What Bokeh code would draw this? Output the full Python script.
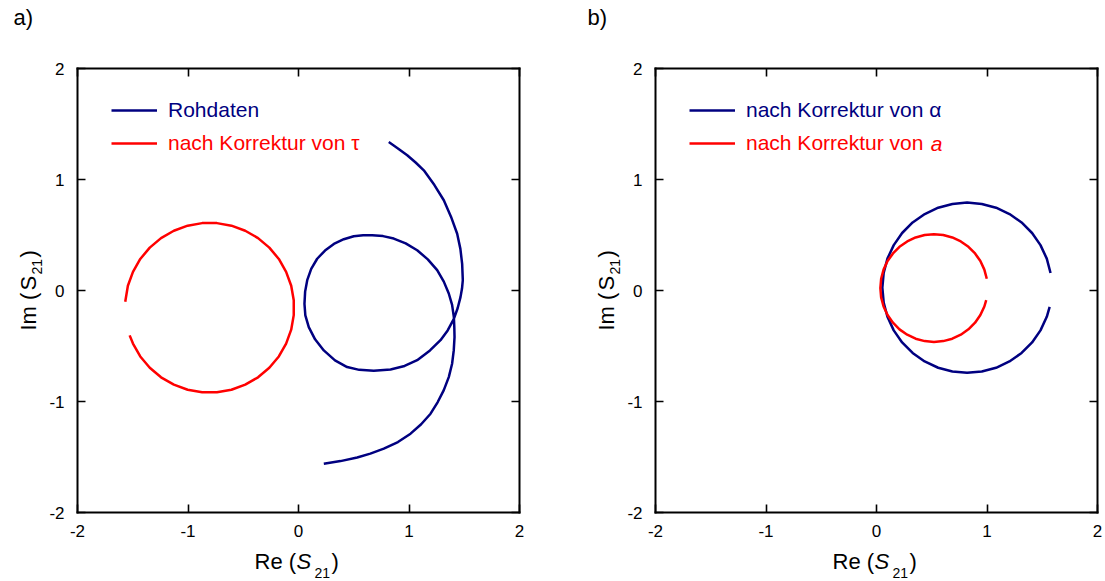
from bokeh.plotting import figure
from bokeh.layouts import row
from bokeh.models import (Range1d, FixedTicker, LinearAxis, Legend, LegendItem,
                          Label, CustomJSTickFormatter)
from bokeh.embed import file_html
from bokeh.resources import INLINE

# ---------------- data ----------------
ticks = [-2, -1, 0, 1, 2]

# panel a) raw data (navy)
raw_re = [0.817, 0.900, 0.984, 1.060, 1.134, 1.230, 1.315, 1.380, 1.436, 1.465,
          1.481, 1.487, 1.480, 1.466, 1.440, 1.406,
          1.350, 1.285, 1.190, 1.074, 0.960, 0.833, 0.681, 0.550, 0.440, 0.330,
          0.229, 0.150, 0.093, 0.062, 0.054, 0.060, 0.079, 0.115, 0.169, 0.240,
          0.320, 0.410, 0.500, 0.585, 0.667, 0.765, 0.862, 0.970, 1.074, 1.170,
          1.255, 1.315, 1.360, 1.390, 1.406,
          1.410, 1.412, 1.405, 1.390, 1.360, 1.315, 1.260, 1.195, 1.110, 1.014,
          0.900, 0.772, 0.650, 0.531, 0.380, 0.229]
raw_im = [1.337, 1.280, 1.219, 1.153, 1.083, 0.950, 0.813, 0.665, 0.511, 0.375,
          0.240, 0.093, 0.020, -0.060, -0.160, -0.255,
          -0.360, -0.448, -0.540, -0.628, -0.680, -0.712, -0.724, -0.715, -0.690, -0.630,
          -0.540, -0.440, -0.330, -0.225, -0.120, -0.010, 0.093, 0.195, 0.286, 0.360,
          0.420, 0.462, 0.489, 0.498, 0.498, 0.490, 0.468, 0.425, 0.363, 0.280,
          0.183, 0.080, -0.027, -0.130, -0.240,
          -0.330, -0.420, -0.540, -0.660, -0.780, -0.898, -1.005, -1.110, -1.205, -1.290,
          -1.365, -1.425, -1.470, -1.505, -1.537, -1.560]

# panel a) after tau correction (red)
tau_re = [-1.568, -1.544, -1.498, -1.432, -1.346, -1.244, -1.128, -1.003, -0.872, -0.738,
          -0.607, -0.482, -0.366, -0.264, -0.178, -0.112, -0.066, -0.043, -0.043, -0.066,
          -0.112, -0.178, -0.264, -0.366, -0.482, -0.607, -0.738, -0.872, -1.003, -1.128,
          -1.244, -1.346, -1.432, -1.498, -1.528]
tau_im = [-0.102, 0.043, 0.168, 0.284, 0.386, 0.472, 0.538, 0.584, 0.607, 0.607,
          0.584, 0.538, 0.472, 0.386, 0.284, 0.168, 0.043, -0.088, -0.222, -0.353,
          -0.478, -0.594, -0.696, -0.782, -0.848, -0.894, -0.917, -0.917, -0.894, -0.848,
          -0.782, -0.696, -0.594, -0.478, -0.404]

# panel b) after alpha correction (navy)
alp_re = [1.575, 1.541, 1.484, 1.408, 1.313, 1.204, 1.082, 0.953, 0.820, 0.687,
          0.558, 0.437, 0.327, 0.232, 0.156, 0.099, 0.065, 0.053, 0.065, 0.099,
          0.156, 0.232, 0.327, 0.436, 0.558, 0.687, 0.820, 0.953, 1.082, 1.203,
          1.313, 1.408, 1.484, 1.541, 1.567]
alp_im = [0.158, 0.287, 0.409, 0.518, 0.613, 0.689, 0.746, 0.780, 0.792, 0.780,
          0.746, 0.689, 0.613, 0.518, 0.409, 0.287, 0.158, 0.025, -0.108, -0.237,
          -0.359, -0.468, -0.563, -0.639, -0.696, -0.730, -0.742, -0.730, -0.696, -0.639,
          -0.563, -0.468, -0.359, -0.237, -0.148]

# panel b) after a correction (red)
a_re = [0.998, 0.976, 0.940, 0.892, 0.832, 0.763, 0.686, 0.604, 0.520, 0.436,
        0.354, 0.278, 0.208, 0.149, 0.100, 0.064, 0.042, 0.035, 0.042, 0.064,
        0.100, 0.149, 0.208, 0.278, 0.354, 0.436, 0.520, 0.604, 0.686, 0.763,
        0.832, 0.892, 0.940, 0.976, 0.993]
a_im = [0.106, 0.188, 0.265, 0.334, 0.394, 0.442, 0.478, 0.500, 0.507, 0.500,
        0.478, 0.442, 0.394, 0.334, 0.265, 0.188, 0.106, 0.022, -0.062, -0.144,
        -0.221, -0.290, -0.350, -0.398, -0.434, -0.456, -0.463, -0.456, -0.434, -0.398,
        -0.350, -0.290, -0.221, -0.144, -0.087]

NAVY = "#000080"
RED = "#ff0000"
FONT = "Liberation Sans"

H = 581
FTOP, FBOT = 68, 512          # frame top / bottom (px)
FW = 442                      # frame width (px)
SX = FW / 4.0                 # px per unit (x)
SY = (FBOT - FTOP) / 4.0      # px per unit (y)
K = 0.41                      # baseline correction (fraction of font size)


def make_panel(width, fleft, tag, series, legend_texts, italic_tail):
    # frame covers the whole canvas; the [-2, 2] box sits at fleft..fleft+FW, FTOP..FBOT
    x0 = -2 - fleft / SX
    x1 = 2 + (width - fleft - FW) / SX
    y1 = 2 + FTOP / SY
    y0 = -2 - (H - FBOT) / SY

    def X(px):
        return -2 + (px - fleft) / SX

    def Y(py):
        return 2 - (py - FTOP) / SY

    p = figure(width=width, height=H, x_range=Range1d(x0, x1), y_range=Range1d(y0, y1),
               output_backend="svg", toolbar_location=None,
               min_border_left=0, min_border_right=0, min_border_top=0, min_border_bottom=0,
               x_axis_location=None, y_axis_location=None)
    p.grid.visible = False
    p.outline_line_color = None
    p.background_fill_color = "white"
    p.border_fill_color = "white"

    for place, loc in [("below", -2), ("left", -2), ("above", 2), ("right", 2)]:
        ax = LinearAxis(fixed_location=loc, bounds=(-2, 2))
        ax.ticker = FixedTicker(ticks=ticks)
        ax.major_tick_in = 8
        ax.major_tick_out = 0
        ax.minor_tick_line_color = None
        ax.axis_line_width = 2
        ax.axis_line_color = "black"
        ax.axis_line_cap = "square"
        ax.major_tick_line_width = 1.6
        ax.major_tick_line_color = "black"
        ax.major_label_text_font = FONT
        ax.major_label_text_font_size = "17px"
        ax.major_label_text_color = "black"
        if place in ("above", "right"):
            ax.formatter = CustomJSTickFormatter(code="return ''")
            ax.major_label_standoff = 0
        else:
            ax.formatter = CustomJSTickFormatter(code="return tick.toFixed(0)")
            ax.major_label_standoff = 12 if place == "below" else 13
        p.add_layout(ax, place)

    rends = []
    for (xs, ys, col) in series:
        r = p.line(xs, ys, line_color=col, line_width=2.5, line_join="round")
        rends.append(r)

    # legends (one per entry so that each label keeps its own colour)
    centers = [110, 142.7]
    cols = [NAVY, RED]
    for r, txt, cy, col in zip(rends, legend_texts, centers, cols):
        vy = H - (cy + 15)
        leg = Legend(items=[LegendItem(label=txt, renderers=[r])],
                     location=(fleft + 34, vy),
                     glyph_width=46, glyph_height=30, label_height=30, label_standoff=11,
                     padding=0, margin=0, border_line_color=None, background_fill_alpha=0,
                     label_text_font=FONT, label_text_font_size="21px",
                     label_text_color=col, label_text_baseline="middle")
        p.add_layout(leg)
    if italic_tail:
        w = 21 * (2.168 + 0.278 + 4.112 + 0.278 + 1.612 + 0.278)
        p.add_layout(Label(x=X(fleft + 34 + 46 + 11 + w + 1), y=Y(centers[1]), text=italic_tail,
                           text_font=FONT, text_font_size="21px", text_font_style="italic",
                           text_color=RED, text_baseline="middle", text_align="left"))

    def hlabel(px, base, text, size, style="normal"):
        p.add_layout(Label(x=X(px), y=Y(base - K * size), text=text, text_font=FONT,
                           text_font_size=f"{size}px", text_font_style=style,
                           text_color="black", text_align="left",
                           text_baseline="alphabetic"))

    def vlabel(base, py, text, size):
        p.add_layout(Label(x=X(base - K * size), y=Y(py), text=text, angle=3.14159265 / 2,
                           text_font=FONT, text_font_size=f"{size}px", text_color="black",
                           text_align="left", text_baseline="alphabetic"))

    # panel tag
    hlabel(fleft + tag[1], 26, tag[0], 22)

    # x axis label: Re (S_21)
    bx = fleft + 177
    hlabel(bx, 570, "Re (", 22)
    hlabel(bx + 42, 570, "S", 22, "italic")
    hlabel(bx + 60, 578, "21", 14)
    hlabel(bx + 77, 570, ")", 22)

    # y axis label: Im (S_21), rotated
    lx = fleft - 40.3
    vlabel(lx, 330, "Im (", 22)
    vlabel(lx, 290, "S", 22)
    vlabel(lx + 6, 274, "21", 14)
    vlabel(lx, 257, ")", 22)
    return p


pa = make_panel(580, 77, ("a)", -64),
                [(raw_re, raw_im, NAVY), (tau_re, tau_im, RED)],
                ["Rohdaten", "nach Korrektur von τ"], None)
pb = make_panel(525, 75, ("b)", -68),
                [(alp_re, alp_im, NAVY), (a_re, a_im, RED)],
                ["nach Korrektur von α", "nach Korrektur von "], "a")

layout = row(pa, pb)
open("out.html", "w").write(file_html(layout, INLINE))
